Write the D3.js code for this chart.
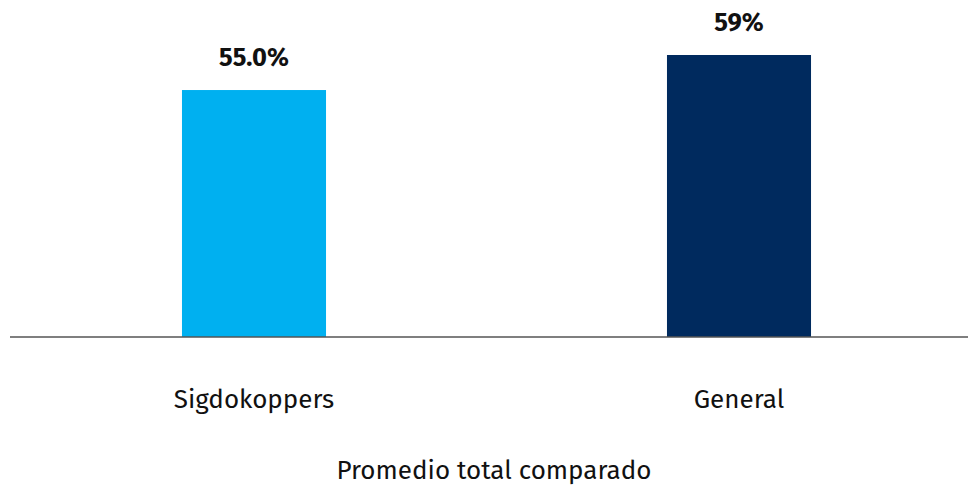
<!DOCTYPE html>
<html>
<head>
<meta charset="utf-8">
<script src="https://cdn.jsdelivr.net/npm/d3@7"></script>
<style>
  html, body { margin: 0; padding: 0; background: #fff; }
  svg { display: block; }
  text { font-family: "Fira Sans", "Noto Sans", "Open Sans", sans-serif; fill: #111; }
</style>
</head>
<body>
<svg id="chart" width="968" height="487"></svg>
<script>
const categories = ["Sigdokoppers", "General"];
const values = [55.0, 59];
const valueLabels = ["55.0%", "59%"];
const colors = ["#00B0F0", "#002A5E"];
const axisTitle = "Promedio total comparado";

const svg = d3.select("#chart");
const baseY = 337;

const x = d3.scaleBand()
  .domain(categories)
  .range([11.5, 981.5])
  .paddingInner(0.703)
  .paddingOuter(0.3515);

const y = d3.scaleLinear()
  .domain([26.8, 59])
  .range([baseY, 55]);

const data = categories.map((c, i) => ({ c, v: values[i], label: valueLabels[i], color: colors[i] }));

svg.selectAll("rect.bar")
  .data(data)
  .join("rect")
  .attr("class", "bar")
  .attr("x", d => x(d.c))
  .attr("width", x.bandwidth())
  .attr("y", d => y(d.v))
  .attr("height", d => baseY - y(d.v))
  .attr("fill", d => d.color);

svg.selectAll("text.val")
  .data(data)
  .join("text")
  .attr("class", "val")
  .attr("x", d => x(d.c) + x.bandwidth() / 2)
  .attr("y", d => y(d.v) - 24.5)
  .attr("text-anchor", "middle")
  .attr("font-size", 25.5)
  .attr("font-weight", "bold")
  .text(d => d.label);

svg.append("line")
  .attr("x1", 10).attr("x2", 968)
  .attr("y1", baseY).attr("y2", baseY)
  .attr("stroke", "#555")
  .attr("stroke-width", 1.5);

svg.selectAll("text.cat")
  .data(data)
  .join("text")
  .attr("class", "cat")
  .attr("x", d => x(d.c) + x.bandwidth() / 2)
  .attr("y", 408)
  .attr("text-anchor", "middle")
  .attr("font-size", 26)
  .text(d => d.c);

svg.append("text")
  .attr("x", 494)
  .attr("y", 479)
  .attr("text-anchor", "middle")
  .attr("font-size", 26)
  .text(axisTitle);
</script>
</body>
</html>
